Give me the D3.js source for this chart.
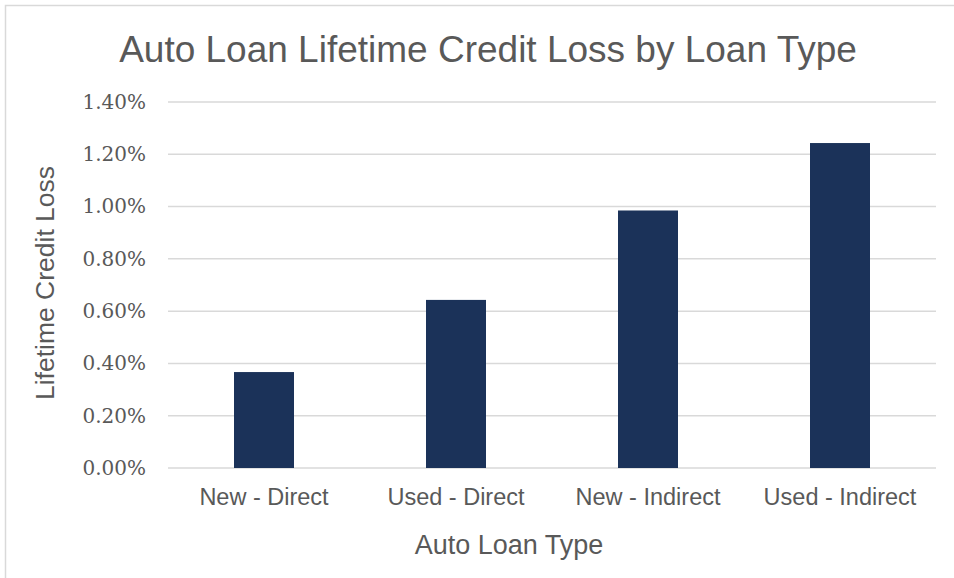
<!DOCTYPE html>
<html>
<head>
<meta charset="utf-8">
<script src="https://cdn.jsdelivr.net/npm/d3@7"></script>
<style>
  body { margin: 0; background: #fff; }
</style>
</head>
<body>
<div id="chart"></div>
<script>
// chart data
var categories = ["New - Direct", "Used - Direct", "New - Indirect", "Used - Indirect"];
var losses = [0.00367, 0.00643, 0.00985, 0.01243];
var yTicks = [0, 0.002, 0.004, 0.006, 0.008, 0.010, 0.012, 0.014];

var W = 954, H = 578;
var margin = {top: 102, right: 18, bottom: 110, left: 168},
    width = W - margin.left - margin.right,
    height = H - margin.top - margin.bottom;

var svg = d3.select("#chart")
  .append("svg")
    .attr("width", W)
    .attr("height", H);

// outer chart border (only top and left show in the frame)
svg.append("rect")
  .attr("x", 5.5).attr("y", 5.5)
  .attr("width", 1000).attr("height", 1000)
  .attr("fill", "none")
  .attr("stroke", "#d9d9d9")
  .attr("stroke-width", 1.5);

var g = svg.append("g")
  .attr("transform", "translate(" + margin.left + "," + margin.top + ")");

var x = d3.scaleBand()
  .domain(categories)
  .range([0, width])
  .paddingInner(0.6875)
  .paddingOuter(0.34375);

var y = d3.scaleLinear()
  .domain([0, 0.014])
  .range([height, 0]);

// gridlines
g.append("g")
  .selectAll("line")
  .data(yTicks)
  .enter()
  .append("line")
    .attr("x1", 0)
    .attr("x2", width)
    .attr("y1", d => y(d))
    .attr("y2", d => y(d))
    .attr("stroke", "#d9d9d9")
    .attr("stroke-width", 1.5);

// y axis labels
var yAxis = g.append("g")
  .call(d3.axisLeft(y).tickValues(yTicks).tickSize(0).tickPadding(22)
    .tickFormat(d3.format(".2%")));
yAxis.select(".domain").remove();
yAxis.selectAll("text")
  .style("font-family", "'DejaVu Serif', serif")
  .style("font-size", "20px")
  .attr("fill", "#595959");

// bars
g.append("g")
  .selectAll("rect")
  .data(losses)
  .enter()
  .append("rect")
    .attr("x", (d, i) => x(categories[i]))
    .attr("y", d => y(d))
    .attr("width", x.bandwidth())
    .attr("height", d => height - y(d))
    .attr("fill", "#1b3259");

// x axis labels
var xAxis = g.append("g")
  .attr("transform", "translate(0," + height + ")")
  .call(d3.axisBottom(x).tickSize(0).tickPadding(20));
xAxis.select(".domain").remove();
xAxis.selectAll("text")
  .style("font-family", "'Liberation Sans', Arial, sans-serif")
  .style("font-size", "23.5px")
  .attr("fill", "#595959");

// title
svg.append("text")
  .attr("x", 488)
  .attr("y", 62)
  .attr("text-anchor", "middle")
  .style("font-family", "'Liberation Sans', Arial, sans-serif")
  .style("font-size", "37px")
  .attr("fill", "#595959")
  .text("Auto Loan Lifetime Credit Loss by Loan Type");

// text label for the x axis
svg.append("text")
  .attr("x", 509)
  .attr("y", 554)
  .attr("text-anchor", "middle")
  .style("font-family", "'Liberation Sans', Arial, sans-serif")
  .style("font-size", "27px")
  .attr("fill", "#595959")
  .text("Auto Loan Type");

// text label for the y axis
svg.append("text")
  .attr("transform", "translate(54,283) rotate(-90)")
  .attr("text-anchor", "middle")
  .style("font-family", "'Liberation Sans', Arial, sans-serif")
  .style("font-size", "26.5px")
  .attr("fill", "#595959")
  .text("Lifetime Credit Loss");
</script>
</body>
</html>
